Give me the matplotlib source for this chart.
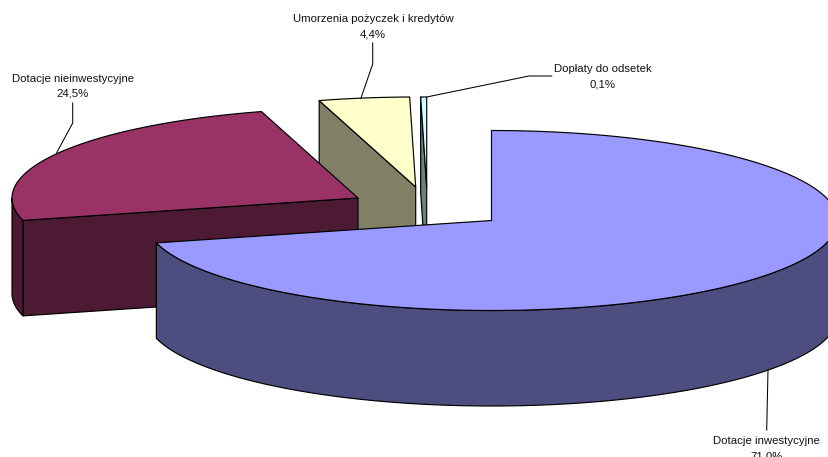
import numpy as np
import matplotlib
matplotlib.use('Agg')
import matplotlib.pyplot as plt
from matplotlib.patches import Polygon

plt.rcParams['font.family'] = ['Liberation Sans', 'DejaVu Sans']

# Chart data
labels = ['Dotacje inwestycyjne', 'Dotacje nieinwestycyjne', 'Umorzenia pożyczek i kredytów', 'Dopłaty do odsetek']
values = [71.0, 24.5, 4.4, 0.1]
value_labels = ['71,0%', '24,5%', '4,4%', '0,1%']
top_colors = ['#9999FF', '#993366', '#FFFFCC', '#CCFFFF']
side_colors = ['#4D4D80', '#4D1A33', '#808066', '#668080']

# Exploded pie centres in pixels, and label/leader placement
centers = [(491.5, 220.5), (358, 198), (415.7, 187), (426.7, 187)]
label_pos = [(766.5, 441.5), (73, 78.5), (373, 19.5), (603, 69.5)]
leaders = [[(766.7, 430), (768, 370)],
           [(72.7, 103), (72.7, 123), (56.7, 152.7)],
           [(372.7, 43), (372.7, 64), (361, 98)],
           [(551.7, 76), (529, 76), (426.7, 97)]]
RX, RY, DEPTH = 346, 90, 95.5
MIN_SWEEP = 1.0  # the smallest slice still gets some width, taken from its neighbour


def rim(center, t0, t1, dy=0, n=200):
    t = np.radians(np.linspace(t0, t1, n))
    return np.column_stack([center[0] + RX * np.sin(t), center[1] + dy - RY * np.cos(t)])


def draw_slice(ax, center, t0, t1, top, side):
    style = dict(edgecolor='black', linewidth=0.85, joinstyle='round')
    # cut face on the left side of the pie
    if t0 > 180:
        p = rim(center, t0, t0, n=1)[0]
        ax.add_patch(Polygon([p, center, (center[0], center[1] + DEPTH), (p[0], p[1] + DEPTH)],
                             facecolor=side, **style))
    # outer wall, front half only
    a, b = max(t0, 90), min(t1, 270)
    if a < b:
        ax.add_patch(Polygon(np.vstack([rim(center, a, b), rim(center, b, a, DEPTH)]),
                             facecolor=side, **style))
    ax.add_patch(Polygon(np.vstack([[center], rim(center, t0, t1)]), facecolor=top, **style))


def main():
    fig = plt.figure(figsize=(8.29, 4.57), dpi=100)
    ax = fig.add_axes([0, 0, 1, 1])
    ax.set_xlim(0, 829)
    ax.set_ylim(457, 0)
    ax.axis('off')

    sweeps = np.array(values) * 3.6
    sweeps[2] -= MIN_SWEEP - sweeps[3]
    sweeps[3] = MIN_SWEEP
    ends = np.cumsum(sweeps)
    starts = ends - sweeps

    # back slices first, the big one ends up in front
    for i in [3, 2, 1, 0]:
        draw_slice(ax, centers[i], starts[i], ends[i], top_colors[i], side_colors[i])

    for i in range(len(labels)):
        xs, ys = zip(*leaders[i])
        ax.plot(xs, ys, color='black', linewidth=0.75)
        ax.text(label_pos[i][0], label_pos[i][1], labels[i], ha='center', va='center', fontsize=8.2, color='#111111')
        ax.text(label_pos[i][0], label_pos[i][1] + 15, value_labels[i], ha='center', va='center', fontsize=8.2,
                color='#111111', clip_on=False)

    fig.savefig('out.png', dpi=100)


if __name__ == "__main__":
    main()
